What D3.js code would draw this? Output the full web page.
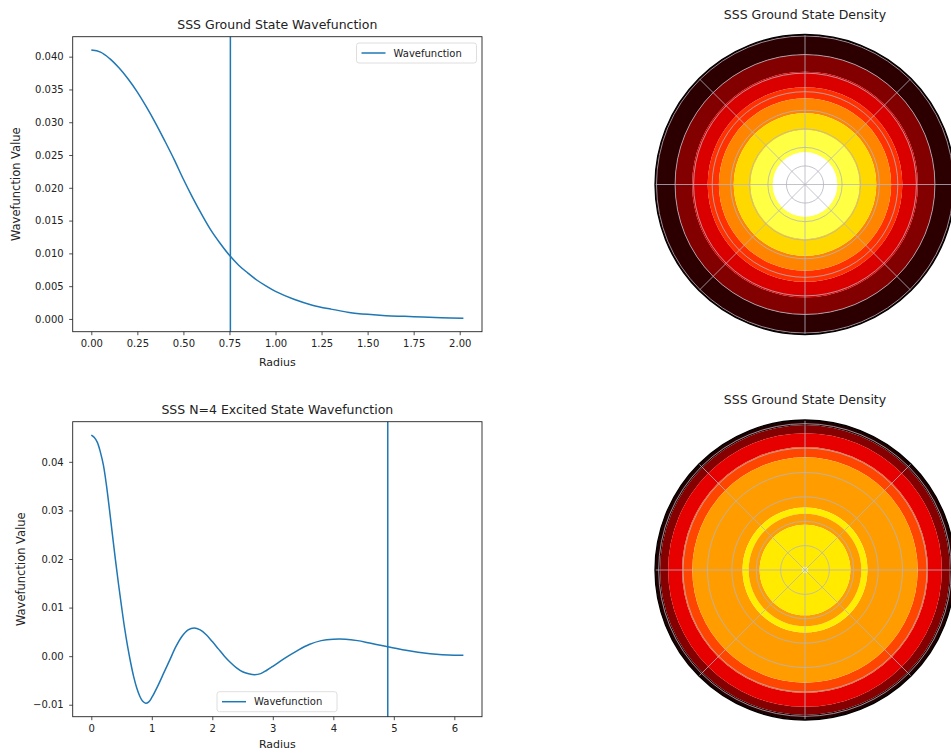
<!DOCTYPE html>
<html>
<head>
<meta charset="utf-8">
<script src="https://cdn.jsdelivr.net/npm/d3@7"></script>
<style>
  body { margin: 0; background: #fff; }
  text { font-family: "DejaVu Sans", sans-serif; fill: #222; }
</style>
</head>
<body>
<script>
const width = 951;
const height = 753;

// ground state wavefunction
const groundRadius = [0, 0.05, 0.1, 0.15, 0.2, 0.25, 0.3, 0.35, 0.4, 0.45, 0.5, 0.55, 0.6, 0.65, 0.7, 0.75, 0.8, 0.85, 0.9, 0.95, 1.0, 1.1, 1.2, 1.3, 1.4, 1.5, 1.6, 1.7, 1.8, 1.9, 2.02];
const groundValue = [0.041, 0.0407, 0.0397, 0.0383, 0.0366, 0.0346, 0.0323, 0.0298, 0.0271, 0.0243, 0.0213, 0.0185, 0.0159, 0.0135, 0.0115, 0.0097, 0.0082, 0.007, 0.0059, 0.005, 0.0042, 0.003, 0.0021, 0.0015, 0.001, 0.0007, 0.0005, 0.0004, 0.0003, 0.0002, 0.0001];
const groundMarker = 0.755;

// N=4 excited state wavefunction, bottom-left panel
const excitedRadius = [0, 0.05, 0.1, 0.15, 0.2, 0.25, 0.3, 0.35, 0.4, 0.45, 0.5, 0.55, 0.6, 0.65, 0.7, 0.75, 0.8, 0.85, 0.9, 0.95, 1.0, 1.1, 1.2, 1.3, 1.4, 1.5, 1.6, 1.7, 1.8, 1.9, 2.0, 2.1, 2.2, 2.3, 2.4, 2.5, 2.6, 2.7, 2.8, 2.9, 3.0, 3.2, 3.4, 3.6, 3.8, 4.0, 4.2, 4.4, 4.6, 4.8, 5.0, 5.2, 5.4, 5.6, 5.8, 6.0, 6.15];
const excitedValue = [0.0455, 0.045, 0.044, 0.042, 0.0393, 0.0352, 0.0302, 0.0249, 0.0197, 0.0148, 0.0102, 0.0058, 0.002, -0.0013, -0.0042, -0.0065, -0.0082, -0.0093, -0.0097, -0.0094, -0.0085, -0.0061, -0.0034, -0.0007, 0.002, 0.0041, 0.0054, 0.0058, 0.0054, 0.0044, 0.003, 0.0015, 0.0, -0.0013, -0.0024, -0.0032, -0.0036, -0.0038, -0.0036, -0.0029, -0.0021, -0.0004, 0.0011, 0.0024, 0.0032, 0.0035, 0.0035, 0.0032, 0.0027, 0.0022, 0.0017, 0.0012, 0.0008, 0.0005, 0.0003, 0.0002, 0.0002];
const excitedMarker = 4.9;

const groundTicksX = [0, 0.25, 0.5, 0.75, 1.0, 1.25, 1.5, 1.75, 2.0];
const groundTicksY = [0, 0.005, 0.01, 0.015, 0.02, 0.025, 0.03, 0.035, 0.04];
const excitedTicksX = [0, 1, 2, 3, 4, 5, 6];
const excitedTicksY = [-0.01, 0, 0.01, 0.02, 0.03, 0.04];

// density bands: outer radius of each filled ring (outside in) and its colour level
const groundBandEdges = [2.02, 1.75, 1.52, 1.31, 1.16, 0.96, 0.73, 0.435];
const groundBandLevels = [0.0625, 0.1875, 0.3125, 0.4375, 0.5625, 0.6875, 0.8125, 1.0];
const groundRingTicks = [0.25, 0.5, 0.75, 1.0, 1.25, 1.5, 1.75, 2.0];

const excitedBandEdges = [6.15, 5.94, 5.61, 5.04, 4.62, 2.56, 2.31, 1.86, 0.12];
const excitedBandLevels = [0.05, 0.19, 0.33, 0.47, 0.6, 0.72, 0.6, 0.715, 0.85];
const excitedRingTicks = [1, 2, 3, 4, 5, 6];

const spokeAngles = [0, 45, 90, 135, 180, 225, 270, 315];

const lineColor = "#1f77b4";

// matplotlib "hot" colormap
const hot = d3.scaleLinear()
  .domain([0, 0.365, 0.746, 1])
  .range(["#000000", "#ff0000", "#ffff00", "#ffffff"]);

const svg = d3.select("body").append("svg")
  .attr("width", width)
  .attr("height", height);

function padded(values) {
  const [lo, hi] = d3.extent(values);
  const pad = (hi - lo) * 0.05;
  return [lo - pad, hi + pad];
}

function linePanel(opts) {
  const box = opts.box;
  const x = d3.scaleLinear().domain(padded(opts.radius)).range([box.left, box.right]);
  const y = d3.scaleLinear().domain(padded(opts.value)).range([box.bottom, box.top]);
  const g = svg.append("g");

  const xAxis = g.append("g")
    .attr("transform", `translate(0,${box.bottom})`)
    .call(d3.axisBottom(x).tickValues(opts.ticksX).tickFormat(d3.format(opts.fmtX)).tickSize(3.5).tickPadding(5));
  const yAxis = g.append("g")
    .attr("transform", `translate(${box.left},0)`)
    .call(d3.axisLeft(y).tickValues(opts.ticksY).tickFormat(d3.format(opts.fmtY)).tickSize(3.5).tickPadding(5.5));
  [xAxis, yAxis].forEach((a) => {
    a.select(".domain").remove();
    a.selectAll("line").attr("stroke", "#222").attr("stroke-width", 0.8);
    a.selectAll("text").attr("font-size", 10).attr("font-family", "DejaVu Sans").attr("fill", "#222");
  });

  const pts = opts.radius.map((r, i) => [r, opts.value[i]]);
  g.append("path")
    .datum(pts)
    .attr("fill", "none")
    .attr("stroke", lineColor)
    .attr("stroke-width", 1.5)
    .attr("d", d3.line().x((d) => x(d[0])).y((d) => y(d[1])).curve(d3.curveCatmullRom));

  g.append("line")
    .attr("x1", x(opts.marker)).attr("x2", x(opts.marker))
    .attr("y1", box.top).attr("y2", box.bottom)
    .attr("stroke", lineColor)
    .attr("stroke-width", 1.5);

  g.append("rect")
    .attr("x", box.left).attr("y", box.top)
    .attr("width", box.right - box.left).attr("height", box.bottom - box.top)
    .attr("fill", "none").attr("stroke", "#222").attr("stroke-width", 0.9);

  g.append("text")
    .attr("x", (box.left + box.right) / 2).attr("y", box.top - 8)
    .attr("text-anchor", "middle").attr("font-size", 12.5)
    .text(opts.title);
  g.append("text")
    .attr("x", (box.left + box.right) / 2).attr("y", box.bottom + opts.xlabelGap)
    .attr("text-anchor", "middle").attr("font-size", 11)
    .text("Radius");
  g.append("text")
    .attr("transform", `translate(${opts.ylabelX},${(box.top + box.bottom) / 2}) rotate(-90)`)
    .attr("text-anchor", "middle").attr("font-size", 11.5)
    .text("Wavefunction Value");

  // legend
  const lg = g.append("g").attr("transform", `translate(${opts.legend.x},${opts.legend.y})`);
  lg.append("rect")
    .attr("width", 120).attr("height", 20).attr("rx", 2.5)
    .attr("fill", "#fff").attr("fill-opacity", 0.8)
    .attr("stroke", "#d6d6d6").attr("stroke-width", 0.8);
  lg.append("line")
    .attr("x1", 5).attr("x2", 29).attr("y1", 10).attr("y2", 10)
    .attr("stroke", lineColor).attr("stroke-width", 1.5);
  lg.append("text")
    .attr("x", 37).attr("y", 13.5).attr("font-size", 10)
    .text("Wavefunction");
}

function polarPanel(opts) {
  const r = d3.scaleLinear().domain([0, opts.rMax]).range([0, opts.R]);
  const g = svg.append("g").attr("transform", `translate(${opts.cx},${opts.cy})`);
  const arc = d3.arc().startAngle(0).endAngle(2 * Math.PI);

  g.selectAll("path.band")
    .data(opts.edges.map((e, i) => ({ outer: e, inner: opts.edges[i + 1] || 0, level: opts.levels[i] })))
    .join("path")
    .attr("class", "band")
    .attr("d", (d) => arc({ innerRadius: r(d.inner), outerRadius: r(d.outer) }))
    .attr("fill", (d) => hot(d.level));

  g.selectAll("circle.grid")
    .data(opts.ringTicks)
    .join("circle")
    .attr("class", "grid")
    .attr("r", (d) => r(d))
    .attr("fill", "none")
    .attr("stroke", "#b4b4c0")
    .attr("stroke-width", 0.8);

  g.selectAll("line.spoke")
    .data(spokeAngles)
    .join("line")
    .attr("class", "spoke")
    .attr("x2", (d) => opts.R * Math.cos((d * Math.PI) / 180))
    .attr("y2", (d) => -opts.R * Math.sin((d * Math.PI) / 180))
    .attr("stroke", "#b4b4c0")
    .attr("stroke-width", 0.8);

  g.append("circle")
    .attr("r", opts.R)
    .attr("fill", "none")
    .attr("stroke", "#000")
    .attr("stroke-width", 1.3);

  g.append("text")
    .attr("x", 0).attr("y", -opts.R - 16)
    .attr("text-anchor", "middle").attr("font-size", 12.5)
    .text(opts.title);
}

linePanel({
  box: { left: 72.7, right: 482, top: 36.7, bottom: 331.7 },
  radius: groundRadius, value: groundValue, marker: groundMarker,
  ticksX: groundTicksX, ticksY: groundTicksY, fmtX: ".2f", fmtY: ".3f",
  title: "SSS Ground State Wavefunction",
  ylabelX: 20, xlabelGap: 34,
  legend: { x: 356.5, y: 43 },
});

linePanel({
  box: { left: 72.7, right: 482, top: 421.7, bottom: 716.7 },
  radius: excitedRadius, value: excitedValue, marker: excitedMarker,
  ticksX: excitedTicksX, ticksY: excitedTicksY, fmtX: "d", fmtY: ".2f",
  title: "SSS N=4 Excited State Wavefunction",
  ylabelX: 25, xlabelGap: 31,
  legend: { x: 217, y: 691.7 },
});

polarPanel({
  cx: 805, cy: 184.5, R: 150, rMax: 2.02,
  edges: groundBandEdges, levels: groundBandLevels, ringTicks: groundRingTicks,
  title: "SSS Ground State Density",
});

polarPanel({
  cx: 805, cy: 570, R: 150, rMax: 6.15,
  edges: excitedBandEdges, levels: excitedBandLevels, ringTicks: excitedRingTicks,
  title: "SSS Ground State Density",
});
</script>
</body>
</html>
